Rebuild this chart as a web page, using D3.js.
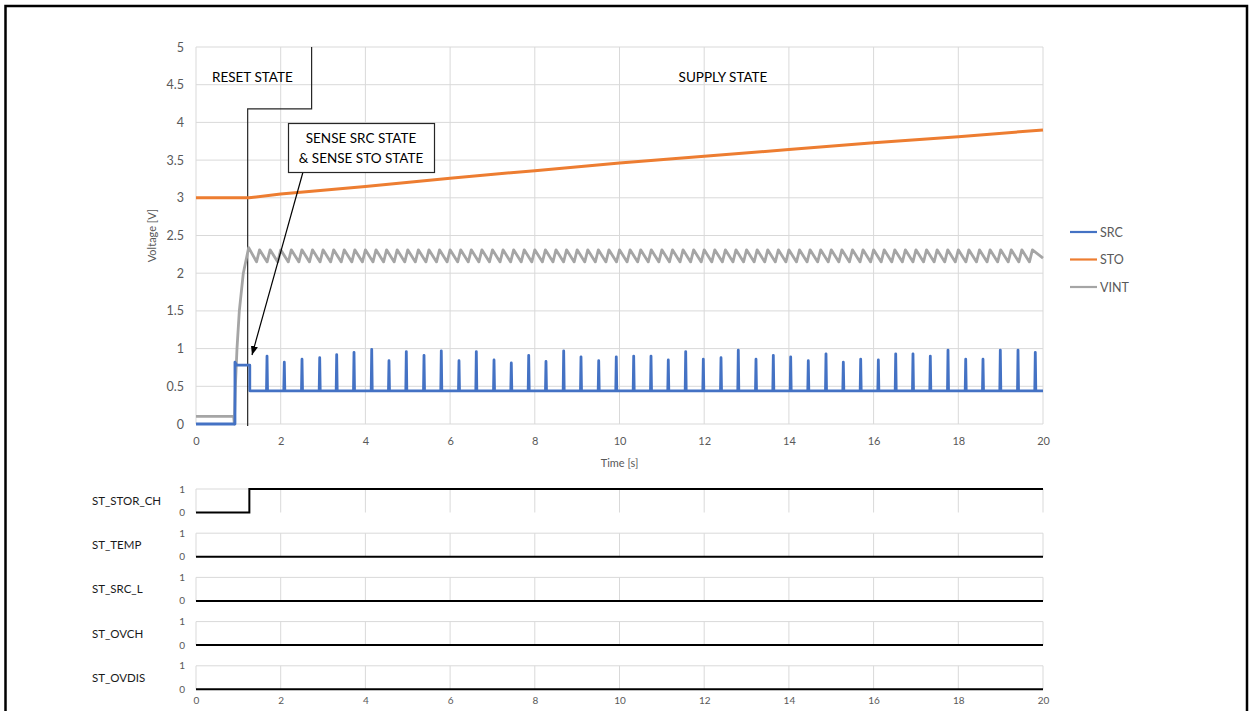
<!DOCTYPE html>
<html><head><meta charset="utf-8">
<script src="https://cdn.jsdelivr.net/npm/d3@7"></script>
<style>
html,body{margin:0;padding:0;background:#fff;}
svg{display:block;font-family:Lato,"Open Sans",sans-serif;}
</style></head><body>
<svg id="chart" width="1253" height="711"></svg>
<script>
// ---- data ----
const seriesNames = ["SRC", "STO", "VINT"];
const seriesColors = ["#4472C4", "#ED7D31", "#A5A5A5"];

const yTickValues = [0, 0.5, 1, 1.5, 2, 2.5, 3, 3.5, 4, 4.5, 5];
const yTickLabels = ["0", "0.5", "1", "1.5", "2", "2.5", "3", "3.5", "4", "4.5", "5"];
const xTickValues = [0, 2, 4, 6, 8, 10, 12, 14, 16, 18, 20];
const xTickLabels = ["0", "2", "4", "6", "8", "10", "12", "14", "16", "18", "20"];

// STO: storage element voltage
const stoTimes = [0, 1.25, 2, 4, 6, 8, 10, 12, 14, 16, 18, 20];
const stoValues = [3.0, 3.0, 3.05, 3.15, 3.26, 3.36, 3.46, 3.55, 3.64, 3.73, 3.81, 3.90];

// VINT: start-up ramp, then regulation ripple
const vintStartTimes = [0, 0.89, 0.905, 0.93, 0.968, 1.023, 1.117, 1.244];
const vintStartValues = [0.1, 0.1, 0.0, 0.5, 1.0, 1.5, 2.0, 2.34];
const vintToothTimes = [1.5, 1.75, 2, 2.25, 2.5, 2.75, 3, 3.25, 3.5, 3.75, 4, 4.25, 4.5, 4.75,
  5, 5.25, 5.5, 5.75, 6, 6.25, 6.5, 6.75, 7, 7.25, 7.5, 7.75, 8, 8.25, 8.5, 8.75, 9, 9.25, 9.5,
  9.75, 10, 10.25, 10.5, 10.75, 11, 11.25, 11.5, 11.75, 12, 12.25, 12.5, 12.75, 13, 13.25, 13.5,
  13.75, 14, 14.25, 14.5, 14.75, 15, 15.25, 15.5, 15.75, 16, 16.25, 16.5, 16.75, 17, 17.25, 17.5,
  17.75, 18, 18.25, 18.5, 18.75, 19, 19.25, 19.5, 19.75];
const vintHigh = 2.31;
const vintLow = 2.15;
const vintEndValue = 2.2;

// SRC: source voltage, sensing plateau then baseline with periodic pulses
const srcStartTimes = [0, 0.92, 0.92, 0.96, 1.27, 1.27];
const srcStartValues = [0, 0, 0.82, 0.78, 0.78, 0.44];
const srcBaseline = 0.44;
const srcSpikeTimes = [1.677, 2.085, 2.503, 2.921, 3.322, 3.731, 4.149, 4.557, 4.966, 5.384,
  5.792, 6.210, 6.619, 7.037, 7.445, 7.856, 8.264, 8.682, 9.091, 9.509, 9.924, 10.335, 10.744,
  11.152, 11.563, 11.979, 12.397, 12.805, 13.223, 13.632, 14.042, 14.458, 14.876, 15.285, 15.695,
  16.112, 16.522, 16.930, 17.339, 17.757, 18.175, 18.583, 18.992, 19.410, 19.818];
const srcSpikePeaks = [0.90, 0.82, 0.86, 0.88, 0.92, 0.95, 0.99, 0.84, 0.96, 0.91,
  0.97, 0.84, 0.96, 0.85, 0.81, 0.91, 0.83, 0.97, 0.89, 0.84, 0.89, 0.90, 0.90,
  0.85, 0.96, 0.86, 0.88, 0.98, 0.86, 0.91, 0.89, 0.84, 0.93, 0.82, 0.86,
  0.85, 0.93, 0.93, 0.90, 0.98, 0.86, 0.86, 0.98, 0.98, 0.95];

// status flags
const stateNames = ["ST_STOR_CH", "ST_TEMP", "ST_SRC_L", "ST_OVCH", "ST_OVDIS"];
const stateTimes = [[0, 1.26, 20], [0, 20], [0, 20], [0, 20], [0, 20]];
const stateValues = [[0, 1, 1], [0, 0], [0, 0], [0, 0], [0, 0]];

// ---- drawing ----
const svg = d3.select("#chart");
const grid = "#D9D9D9", tickColor = "#595959";

const x = d3.scaleLinear().domain([0, 20]).range([196, 1043]);
const y = d3.scaleLinear().domain([0, 5]).range([424, 47]);

// outer frame
svg.append("path").attr("d", "M5.5,712 V6 H1247 V712")
  .attr("fill", "none").attr("stroke", "#000").attr("stroke-width", 2.5);

// gridlines
const g = svg.append("g");
g.selectAll(".hg").data(yTickValues).join("line")
  .attr("x1", x(0)).attr("x2", x(20)).attr("y1", d => y(d)).attr("y2", d => y(d))
  .attr("stroke", grid).attr("stroke-width", 1);
g.selectAll(".vg").data(xTickValues).join("line")
  .attr("x1", d => x(d)).attr("x2", d => x(d)).attr("y1", y(0)).attr("y2", y(5))
  .attr("stroke", grid).attr("stroke-width", 1);

// axes labels
const yAxis = d3.axisLeft(y).tickValues(yTickValues).tickSize(0).tickPadding(0)
  .tickFormat((d, i) => yTickLabels[i]);
const ya = svg.append("g").attr("transform", "translate(184,0)").call(yAxis);
ya.select(".domain").remove();
ya.selectAll("text").attr("fill", tickColor).style("font-size", "12.5px").style("font-family", "Lato");

const xAxis = d3.axisBottom(x).tickValues(xTickValues).tickSize(0).tickPadding(0)
  .tickFormat((d, i) => xTickLabels[i]);
const xa = svg.append("g").attr("transform", "translate(0,437)").call(xAxis);
xa.select(".domain").remove();
xa.selectAll("text").attr("fill", tickColor).style("font-size", "11px").style("font-family", "Lato");

svg.append("text").attr("x", x(10)).attr("y", 467).attr("text-anchor", "middle")
  .attr("fill", tickColor).style("font-size", "11px").text("Time [s]");
svg.append("text").attr("transform", `translate(156,${y(2.5)}) rotate(-90)`)
  .attr("text-anchor", "middle").attr("fill", tickColor).style("font-size", "11px").text("Voltage [V]");

// state boundary annotation
svg.append("path")
  .attr("d", `M${x(2.73)},${y(5)} V${y(4.18)} H${x(1.22)} V${y(0) + 2}`)
  .attr("fill", "none").attr("stroke", "#262626").attr("stroke-width", 1.2);

// series
const line = d3.line().x(d => x(d[0])).y(d => y(d[1]));

const vintPts = vintStartTimes.map((t, i) => [t, vintStartValues[i]]);
vintToothTimes.forEach(t => { vintPts.push([t - 0.07, vintLow]); vintPts.push([t, vintHigh]); });
vintPts.push([20, vintEndValue]);

const stoPts = stoTimes.map((t, i) => [t, stoValues[i]]);

const srcPts = srcStartTimes.map((t, i) => [t, srcStartValues[i]]);
srcSpikeTimes.forEach((t, i) => {
  srcPts.push([t - 0.012, srcBaseline]);
  srcPts.push([t, srcSpikePeaks[i]]);
  srcPts.push([t + 0.012, srcBaseline]);
});
srcPts.push([20, srcBaseline]);

svg.append("path").attr("d", line(vintPts)).attr("fill", "none")
  .attr("stroke", seriesColors[2]).attr("stroke-width", 2.8).attr("stroke-linejoin", "round");
svg.append("path").attr("d", line(stoPts)).attr("fill", "none")
  .attr("stroke", seriesColors[1]).attr("stroke-width", 3).attr("stroke-linejoin", "round");
svg.append("path").attr("d", line(srcPts)).attr("fill", "none")
  .attr("stroke", seriesColors[0]).attr("stroke-width", 2.8).attr("stroke-linejoin", "round");

// state text
svg.append("text").attr("x", 212).attr("y", 82).attr("fill", "#000")
  .style("font-size", "13.5px").text("RESET STATE");
svg.append("text").attr("x", 723).attr("y", 82).attr("text-anchor", "middle").attr("fill", "#000")
  .style("font-size", "13.5px").text("SUPPLY STATE");

// callout box with arrow
svg.append("defs").append("marker").attr("id", "arr").attr("viewBox", "0 0 10 10")
  .attr("refX", 10).attr("refY", 5).attr("markerWidth", 9).attr("markerHeight", 9)
  .attr("markerUnits", "userSpaceOnUse").attr("orient", "auto")
  .append("path").attr("d", "M0,1 L10,5 L0,9 Z").attr("fill", "#000");
svg.append("line").attr("x1", 303).attr("y1", 172).attr("x2", 252).attr("y2", 355)
  .attr("stroke", "#000").attr("stroke-width", 1.2).attr("marker-end", "url(#arr)");
svg.append("rect").attr("x", 288.5).attr("y", 123.5).attr("width", 146).attr("height", 49)
  .attr("fill", "#fff").attr("stroke", "#262626").attr("stroke-width", 1.2);
svg.append("text").attr("x", 361).attr("y", 142.5).attr("text-anchor", "middle")
  .style("font-size", "13.5px").text("SENSE SRC STATE");
svg.append("text").attr("x", 361).attr("y", 162.5).attr("text-anchor", "middle")
  .style("font-size", "13.5px").text("& SENSE STO STATE");

// legend
const lg = svg.append("g");
seriesNames.forEach((n, i) => {
  const ly = 232 + i * 27.5;
  lg.append("line").attr("x1", 1070).attr("x2", 1097).attr("y1", ly).attr("y2", ly)
    .attr("stroke", seriesColors[i]).attr("stroke-width", 2.2);
  lg.append("text").attr("x", 1100).attr("y", ly + 4.5).attr("fill", tickColor)
    .style("font-size", "12.5px").text(n);
});

// status panels
const panelH = 23.5;
stateNames.forEach((name, i) => {
  const top = 489 + i * 44.2;
  const py = d3.scaleLinear().domain([0, 1]).range([top + panelH, top]);
  const pg = svg.append("g");
  pg.append("path").attr("d", `M${x(0)},${py(0)} V${py(1)} H${x(20)} V${py(0)}`)
    .attr("fill", "none").attr("stroke", grid);
  pg.selectAll("line").data(xTickValues.slice(1, -1)).join("line")
    .attr("x1", d => x(d)).attr("x2", d => x(d)).attr("y1", py(0)).attr("y2", py(1))
    .attr("stroke", grid);
  [0, 1].forEach(v => pg.append("text").attr("x", 185).attr("y", py(v) + 3.5)
    .attr("text-anchor", "end").attr("fill", tickColor).style("font-size", "10px").text(v));
  pg.append("text").attr("x", 92).attr("y", top + 16).attr("fill", "#1a1a1a")
    .style("font-size", "11.5px").text(name);
  const sl = d3.line().curve(d3.curveStepAfter).x(d => x(d[0])).y(d => py(d[1]));
  pg.append("path").attr("d", sl(stateTimes[i].map((t, k) => [t, stateValues[i][k]])))
    .attr("fill", "none").attr("stroke", "#000").attr("stroke-width", 2);
});

const bx = d3.axisBottom(x).tickValues(xTickValues).tickSize(0).tickPadding(0)
  .tickFormat((d, i) => xTickLabels[i]);
const bxa = svg.append("g").attr("transform", "translate(0,697)").call(bx);
bxa.select(".domain").remove();
bxa.selectAll("text").attr("fill", tickColor).style("font-size", "10px").style("font-family", "Lato");
</script>
</body></html>
